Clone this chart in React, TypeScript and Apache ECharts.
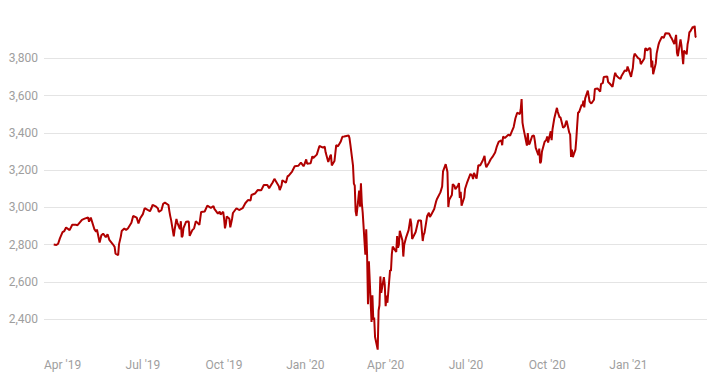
import { useEffect, useRef } from "react";
import * as echarts from "echarts";

// Trading dates (MM-DD) and closing values
const dates2019 = [
  "03-22", "03-25", "03-27", "03-29",
  "04-01", "04-03", "04-05", "04-09", "04-12", "04-16", "04-18", "04-23", "04-26", "04-30",
  "05-01", "05-03", "05-07", "05-09", "05-10", "05-13", "05-15", "05-17", "05-20", "05-22", "05-24", "05-28", "05-30", "05-31",
  "06-03", "06-04", "06-06", "06-07", "06-10", "06-12", "06-14", "06-18", "06-20", "06-24", "06-26", "06-28",
  "07-01", "07-03", "07-05", "07-09", "07-11", "07-12", "07-16", "07-18", "07-19", "07-22", "07-24", "07-26", "07-30", "07-31",
  "08-01", "08-02", "08-05", "08-06", "08-08", "08-09", "08-12", "08-13", "08-14", "08-15", "08-16", "08-19", "08-21", "08-22", "08-23", "08-26", "08-28", "08-30",
  "09-03", "09-05", "09-09", "09-12", "09-16", "09-19", "09-20", "09-24", "09-26", "09-27", "09-30",
  "10-01", "10-02", "10-03", "10-04", "10-07", "10-08", "10-10", "10-11", "10-15", "10-18", "10-22", "10-25", "10-28", "10-31",
  "11-01", "11-05", "11-08", "11-12", "11-15", "11-19", "11-21", "11-25", "11-27",
  "12-02", "12-03", "12-05", "12-06", "12-10", "12-12", "12-13", "12-17", "12-20", "12-24", "12-27", "12-30", "12-31",
];
const closes2019 = [
  2800.7, 2798.4, 2805.4, 2834.4,
  2867.2, 2873.4, 2892.7, 2878.2, 2907.4, 2907.1, 2905.0, 2933.7, 2939.9, 2945.8,
  2923.7, 2945.6, 2884.1, 2870.7, 2881.4, 2811.9, 2851.0, 2859.5, 2840.2, 2856.3, 2826.1, 2802.4, 2788.9, 2752.1,
  2744.5, 2803.3, 2843.5, 2873.3, 2886.7, 2879.8, 2887.0, 2917.8, 2954.2, 2945.4, 2913.8, 2941.8,
  2964.3, 2995.8, 2990.4, 2979.6, 2999.9, 3013.8, 3004.0, 2995.1, 2976.6, 2985.0, 3019.6, 3025.9, 3013.2, 2980.4,
  2953.6, 2932.1, 2844.7, 2881.8, 2938.1, 2918.7, 2883.1, 2926.3, 2840.6, 2847.6, 2888.7, 2923.7, 2924.4, 2922.9, 2847.1, 2878.4, 2887.9, 2926.5,
  2906.3, 2976.0, 2978.4, 3009.6, 2998.0, 3006.8, 2992.1, 2966.6, 2977.6, 2961.8, 2976.7,
  2940.3, 2887.6, 2910.6, 2952.0, 2938.8, 2893.1, 2938.1, 2970.3, 2995.7, 2986.2, 2996.0, 3022.6, 3039.4, 3037.6,
  3066.9, 3074.6, 3093.1, 3091.8, 3120.5, 3120.2, 3103.5, 3133.6, 3153.6,
  3113.9, 3093.2, 3117.4, 3145.9, 3132.5, 3168.6, 3168.8, 3192.5, 3221.2, 3223.4, 3240.0, 3221.3, 3230.8,
];

const dates2020 = [
  "01-02", "01-03", "01-07", "01-09", "01-10", "01-14", "01-17", "01-21", "01-23", "01-24", "01-27", "01-29", "01-30", "01-31",
  "02-03", "02-05", "02-07", "02-10", "02-12", "02-14", "02-19", "02-20", "02-21", "02-24", "02-25", "02-26", "02-27", "02-28",
  "03-02", "03-03", "03-04", "03-05", "03-06", "03-09", "03-10", "03-11", "03-12", "03-13", "03-16", "03-17", "03-18", "03-19", "03-20", "03-23", "03-24", "03-25", "03-26", "03-27", "03-30", "03-31",
  "04-01", "04-02", "04-03", "04-06", "04-07", "04-08", "04-09", "04-13", "04-14", "04-15", "04-16", "04-17", "04-20", "04-21", "04-22", "04-24", "04-27", "04-29", "04-30",
  "05-01", "05-05", "05-08", "05-11", "05-13", "05-14", "05-15", "05-18", "05-20", "05-21", "05-22", "05-26", "05-28", "05-29",
  "06-02", "06-04", "06-05", "06-08", "06-10", "06-11", "06-12", "06-15", "06-16", "06-18", "06-19", "06-22", "06-23", "06-24", "06-25", "06-26", "06-29", "06-30",
  "07-02", "07-06", "07-08", "07-09", "07-10", "07-13", "07-15", "07-17", "07-20", "07-22", "07-23", "07-24", "07-27", "07-29", "07-31",
  "08-03", "08-05", "08-07", "08-10", "08-11", "08-12", "08-14", "08-18", "08-20", "08-21", "08-24", "08-26", "08-28", "08-31",
  "09-01", "09-02", "09-03", "09-04", "09-08", "09-09", "09-10", "09-11", "09-14", "09-16", "09-17", "09-18", "09-21", "09-22", "09-23", "09-24", "09-25", "09-28", "09-30",
  "10-01", "10-02", "10-05", "10-06", "10-07", "10-09", "10-12", "10-13", "10-15", "10-16", "10-19", "10-21", "10-22", "10-23", "10-26", "10-27", "10-28", "10-29", "10-30",
  "11-02", "11-03", "11-04", "11-05", "11-06", "11-09", "11-10", "11-11", "11-12", "11-13", "11-16", "11-18", "11-20", "11-23", "11-24", "11-27", "11-30",
  "12-01", "12-03", "12-04", "12-08", "12-09", "12-11", "12-14", "12-16", "12-17", "12-18", "12-21", "12-23", "12-24", "12-28", "12-30", "12-31",
];
const closes2020 = [
  3257.9, 3234.9, 3237.2, 3274.7, 3265.4, 3283.2, 3329.6, 3321.0, 3325.5, 3295.5, 3243.6, 3273.4, 3283.7, 3225.5,
  3248.9, 3334.7, 3327.7, 3352.1, 3379.4, 3380.2, 3386.2, 3373.2, 3337.8, 3225.9, 3128.2, 3116.4, 2978.8, 2954.2,
  3090.2, 3003.4, 3130.1, 3023.9, 2972.4, 2746.6, 2882.2, 2741.4, 2480.6, 2711.0, 2386.1, 2529.2, 2398.1, 2409.4, 2304.9, 2237.4, 2447.3, 2475.6, 2630.1, 2541.5, 2626.7, 2584.6,
  2470.5, 2526.9, 2488.7, 2663.7, 2659.4, 2750.0, 2789.8, 2761.6, 2846.1, 2783.4, 2799.6, 2874.6, 2823.2, 2736.6, 2799.3, 2836.7, 2878.5, 2939.5, 2912.4,
  2830.7, 2868.4, 2929.8, 2930.3, 2820.0, 2852.5, 2863.7, 2953.9, 2971.6, 2948.5, 2955.5, 2991.8, 3029.7, 3044.3,
  3080.8, 3112.4, 3193.9, 3232.4, 3190.1, 3002.1, 3041.3, 3066.6, 3124.7, 3115.3, 3097.7, 3117.9, 3131.3, 3050.3, 3083.8, 3009.1, 3053.2, 3100.3,
  3130.0, 3179.7, 3169.9, 3152.1, 3185.0, 3155.2, 3226.6, 3224.7, 3251.8, 3276.0, 3235.7, 3215.6, 3239.4, 3258.4, 3271.1,
  3294.6, 3327.8, 3351.3, 3360.5, 3333.7, 3380.4, 3372.9, 3389.8, 3385.5, 3397.2, 3431.3, 3478.7, 3508.0, 3500.3,
  3526.7, 3580.8, 3455.1, 3427.0, 3331.8, 3399.0, 3339.2, 3341.0, 3383.5, 3385.5, 3357.0, 3319.5, 3281.1, 3315.6, 3236.9, 3246.6, 3298.5, 3351.6, 3363.0,
  3380.8, 3348.4, 3408.6, 3361.0, 3419.4, 3477.1, 3534.2, 3511.9, 3483.3, 3483.8, 3426.9, 3435.6, 3453.5, 3465.4, 3401.0, 3390.7, 3271.0, 3310.1, 3270.0,
  3310.2, 3369.2, 3443.4, 3510.5, 3509.4, 3550.5, 3545.5, 3572.7, 3537.0, 3585.2, 3626.9, 3567.8, 3557.5, 3577.6, 3635.4, 3638.4, 3621.6,
  3662.5, 3666.7, 3699.1, 3702.3, 3672.8, 3663.5, 3647.5, 3701.2, 3722.5, 3709.4, 3694.9, 3690.0, 3703.1, 3735.4, 3732.0, 3756.1,
];

const dates2021 = [
  "01-04", "01-05", "01-06", "01-07", "01-08", "01-12", "01-14", "01-15", "01-19", "01-20", "01-21", "01-22", "01-25", "01-26", "01-27", "01-28", "01-29",
  "02-01", "02-02", "02-04", "02-05", "02-08", "02-10", "02-12", "02-16", "02-18", "02-19", "02-22", "02-24", "02-25", "02-26",
  "03-01", "03-02", "03-03", "03-04", "03-05", "03-08", "03-09", "03-10", "03-11", "03-12", "03-15", "03-16", "03-17", "03-18", "03-19",
];
const closes2021 = [
  3700.7, 3726.9, 3748.1, 3803.8, 3824.7, 3801.2, 3795.5, 3768.3, 3798.9, 3851.9, 3853.1, 3841.5, 3855.4, 3849.6, 3750.8, 3787.4, 3714.2,
  3773.9, 3826.3, 3871.7, 3886.8, 3915.6, 3909.9, 3934.8, 3932.6, 3914.0, 3906.7, 3876.5, 3925.4, 3829.3, 3811.2,
  3901.8, 3870.3, 3819.7, 3768.5, 3841.9, 3821.4, 3875.4, 3898.8, 3939.3, 3943.3, 3968.9, 3962.7, 3974.1, 3915.5, 3913.1,
];

const xStart = "2019-03-11";
const xEnd = "2021-03-31";
const yMin = 2200;
const yMax = 4000;
const yStep = 200;

export default function App() {
  const ref = useRef<HTMLDivElement>(null);
  useEffect(() => {
    if (!ref.current) return;
    const chart = echarts.init(ref.current, null, { renderer: "svg" });
    const pairs = (year: number, ds: string[], vs: number[]) =>
      ds.map((d, i) => [`${year}-${d}`, vs[i]]);
    const data = [
      ...pairs(2019, dates2019, closes2019),
      ...pairs(2020, dates2020, closes2020),
      ...pairs(2021, dates2021, closes2021),
    ];
    const DAY = 86400000;
    chart.setOption({
      animation: false,
      backgroundColor: "#ffffff",
      grid: { left: 44, right: 5, top: 21, bottom: 35.4, containLabel: false },
      xAxis: {
        type: "time",
        min: xStart,
        max: xEnd,
        minInterval: 93 * DAY,
        maxInterval: 93 * DAY,
        axisLine: { show: false },
        axisTick: { show: false },
        splitLine: { show: false },
        axisLabel: {
          formatter: "{MMM} '{yy}",
          color: "#9e9e9e",
          fontFamily: "Roboto",
          fontSize: 12,
          margin: 2,
          hideOverlap: false,
        },
      },
      yAxis: {
        type: "value",
        min: yMin,
        max: yMax,
        interval: yStep,
        axisLine: { show: false },
        axisTick: { show: false },
        axisLabel: {
          showMinLabel: false,
          showMaxLabel: false,
          color: "#9e9e9e",
          fontFamily: "Roboto",
          fontSize: 12,
          margin: 6,
          formatter: (v: number) => v.toLocaleString("en-US"),
        },
        splitLine: {
          show: true,
          showMinLine: false,
          showMaxLine: false,
          lineStyle: { color: "#e4e4e4", width: 1 },
        },
      },
      series: [
        {
          type: "line",
          data,
          showSymbol: false,
          symbol: "none",
          silent: true,
          lineStyle: { color: "#b00000", width: 2 },
          itemStyle: { color: "#b00000" },
        },
      ],
    });
    return () => chart.dispose();
  }, []);
  return (
    <div
      ref={ref}
      style={{ position: "fixed", left: 0, top: 0, width: 712, height: 392 }}
    />
  );
}
